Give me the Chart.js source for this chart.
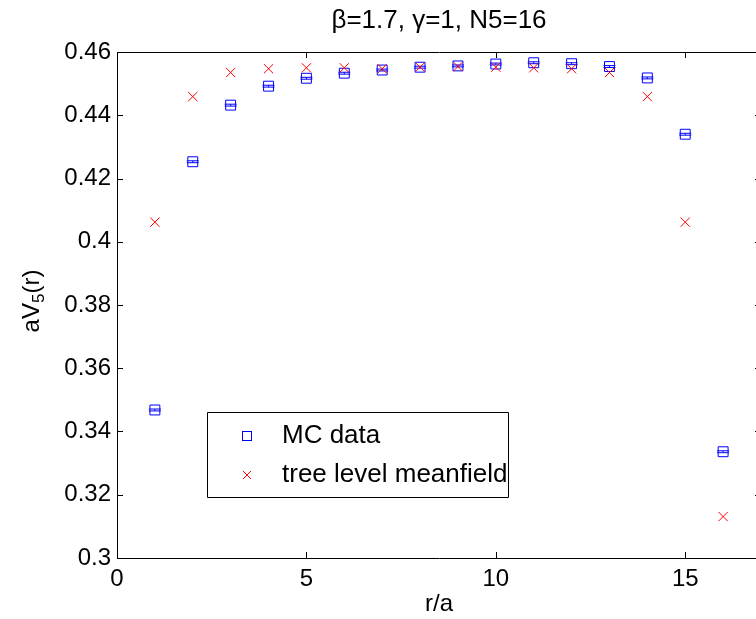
<!DOCTYPE html>
<html>
<head>
<meta charset="utf-8">
<script src="https://cdn.jsdelivr.net/npm/chart.js@4/dist/chart.umd.min.js"></script>
<style>
html, body { margin: 0; padding: 0; background: #fff; overflow: hidden; }
#myChart { display: block; }
</style>
</head>
<body>
<canvas id="myChart" width="770" height="619" style="width:770px;height:619px"></canvas>
<script>
// r/a values
const rValues = [1, 2, 3, 4, 5, 6, 7, 8, 9, 10, 11, 12, 13, 14, 15, 16];
// Monte Carlo data and its errors
const mcData = [0.3468, 0.4253, 0.4432, 0.4492, 0.4517, 0.4533, 0.4543, 0.4552,
                0.4556, 0.4562, 0.4566, 0.4563, 0.4554, 0.4518, 0.4340, 0.3336];
const mcErr = [0.0003, 0.0003, 0.0003, 0.0003, 0.0003, 0.0003, 0.0003, 0.0003,
               0.0003, 0.0003, 0.0003, 0.0003, 0.0003, 0.0003, 0.0003, 0.0003];
// tree level meanfield
const treeLevel = [0.4062, 0.4459, 0.4535, 0.4547, 0.4550, 0.4550, 0.4547, 0.4552,
                   0.4554, 0.4552, 0.4550, 0.4547, 0.4535, 0.4459, 0.4062, 0.3131];
const xTicks = [0, 5, 10, 15];
const yTicks = [0.3, 0.32, 0.34, 0.36, 0.38, 0.4, 0.42, 0.44, 0.46];
const titleText = 'β=1.7, γ=1, N5=16';

const FONT = "'Liberation Sans', Arial, Helvetica, sans-serif";

// error bars for MC points
const errorBars = {
    id: 'errorBars',
    afterDatasetDraw(chart, args) {
        if (args.index !== 0) return;
        const ctx = chart.ctx, xs = chart.scales.x, ys = chart.scales.y;
        ctx.save();
        ctx.strokeStyle = '#0000ff';
        ctx.lineWidth = 1;
        rValues.forEach((r, i) => {
            const px = xs.getPixelForValue(r);
            const lo = ys.getPixelForValue(mcData[i] - mcErr[i]);
            const hi = ys.getPixelForValue(mcData[i] + mcErr[i]);
            ctx.beginPath();
            ctx.moveTo(px, lo); ctx.lineTo(px, hi);
            ctx.moveTo(px - 6, lo); ctx.lineTo(px + 6, lo);
            ctx.moveTo(px - 6, hi); ctx.lineTo(px + 6, hi);
            ctx.stroke();
        });
        ctx.restore();
    }
};

// title, box, inward ticks, y title with subscript, legend inside the plot
const decorations = {
    id: 'decorations',
    afterDraw(chart) {
        const ctx = chart.ctx, a = chart.chartArea;
        const xs = chart.scales.x, ys = chart.scales.y;
        ctx.save();

        // title centred over the plot box
        ctx.fillStyle = '#000';
        ctx.font = '26px ' + FONT;
        ctx.textAlign = 'center';
        ctx.textBaseline = 'middle';
        ctx.fillText(titleText, (a.left + a.right) / 2, 21);

        ctx.strokeStyle = '#000';
        ctx.lineWidth = 1;
        ctx.beginPath();
        ctx.rect(Math.round(a.left) + 0.5, Math.round(a.top) + 0.5,
                 Math.round(a.right - a.left), Math.round(a.bottom - a.top));
        ctx.stroke();
        ctx.beginPath();
        xTicks.forEach(v => {
            const p = Math.round(xs.getPixelForValue(v)) + 0.5;
            ctx.moveTo(p, a.bottom); ctx.lineTo(p, a.bottom - 6);
            ctx.moveTo(p, a.top); ctx.lineTo(p, a.top + 6);
        });
        yTicks.forEach(v => {
            const p = Math.round(ys.getPixelForValue(v)) + 0.5;
            ctx.moveTo(a.left, p); ctx.lineTo(a.left + 6, p);
            ctx.moveTo(a.right, p); ctx.lineTo(a.right - 6, p);
        });
        ctx.stroke();

        // y title
        ctx.save();
        ctx.translate(32, (a.top + a.bottom) / 2 - 4);
        ctx.rotate(-Math.PI / 2);
        ctx.fillStyle = '#000';
        ctx.textBaseline = 'middle';
        ctx.font = '24px ' + FONT;
        const w1 = ctx.measureText('aV').width;
        ctx.font = '17px ' + FONT;
        const w2 = ctx.measureText('5').width;
        ctx.font = '24px ' + FONT;
        const w3 = ctx.measureText('(r)').width;
        let x0 = -(w1 + w2 + w3) / 2;
        ctx.textAlign = 'left';
        ctx.fillText('aV', x0, 0);
        ctx.font = '17px ' + FONT;
        ctx.fillText('5', x0 + w1, 7);
        ctx.font = '24px ' + FONT;
        ctx.fillText('(r)', x0 + w1 + w2, 0);
        ctx.restore();

        // legend
        const lx = a.left + 90, ly = a.top + 360, lw = 301, lh = 85;
        ctx.fillStyle = '#fff';
        ctx.fillRect(lx, ly, lw, lh);
        ctx.beginPath();
        ctx.rect(Math.round(lx) + 0.5, Math.round(ly) + 0.5, lw, lh);
        ctx.stroke();
        const mx = lx + 40, row1 = ly + 24, row2 = ly + 63;
        ctx.strokeStyle = '#0000ff';
        ctx.strokeRect(mx - 4.5, row1 - 4.5, 9, 9);
        ctx.strokeStyle = '#ff0000';
        ctx.beginPath();
        ctx.moveTo(mx - 4, row2 - 4); ctx.lineTo(mx + 4, row2 + 4);
        ctx.moveTo(mx - 4, row2 + 4); ctx.lineTo(mx + 4, row2 - 4);
        ctx.stroke();
        ctx.fillStyle = '#000';
        ctx.font = '26px ' + FONT;
        ctx.textAlign = 'left';
        ctx.textBaseline = 'middle';
        ctx.fillText('MC data', lx + 75, row1);
        ctx.fillText('tree level meanfield', lx + 75, row2);
        ctx.restore();
    }
};

const ctx = document.getElementById('myChart');

new Chart(ctx, {
    type: 'scatter',
    data: {
        datasets: [{
            label: 'MC data',
            data: rValues.map((r, i) => ({ x: r, y: mcData[i] })),
            pointStyle: 'rect',
            pointRadius: 7,
            borderColor: '#0000ff',
            backgroundColor: 'rgba(0,0,0,0)',
            borderWidth: 1,
            order: 1
        }, {
            label: 'tree level meanfield',
            data: rValues.map((r, i) => ({ x: r, y: treeLevel[i] })),
            pointStyle: 'crossRot',
            pointRadius: 6.5,
            borderColor: '#ff0000',
            backgroundColor: '#ff0000',
            borderWidth: 1,
            order: 0
        }]
    },
    options: {
        responsive: false,
        animation: false,
        devicePixelRatio: 1,
        layout: { padding: { left: 0, right: 9, top: 52, bottom: 0 } },
        plugins: {
            legend: { display: false },
            tooltip: { enabled: false },
            title: { display: false }
        },
        scales: {
            x: {
                type: 'linear',
                min: 0,
                max: 17,
                afterBuildTicks: s => { s.ticks = xTicks.map(v => ({ value: v })); },
                afterFit: s => { s.height = 61; },
                grid: { display: false, drawTicks: false },
                border: { display: false },
                ticks: {
                    color: '#000',
                    padding: 7,
                    maxRotation: 0,
                    font: { family: FONT, size: 24 }
                },
                title: {
                    display: true,
                    text: 'r/a',
                    color: '#000',
                    font: { family: FONT, size: 24 },
                    padding: { top: 0, bottom: 0 }
                }
            },
            y: {
                type: 'linear',
                min: 0.3,
                max: 0.46,
                afterBuildTicks: s => { s.ticks = yTicks.map(v => ({ value: v })); },
                afterFit: s => { s.width = 117; },
                grid: { display: false, drawTicks: false },
                border: { display: false },
                ticks: {
                    color: '#000',
                    padding: 6,
                    font: { family: FONT, size: 24 },
                    callback: v => String(+v.toFixed(2))
                }
            }
        }
    },
    plugins: [errorBars, decorations]
});
</script>
</body>
</html>
